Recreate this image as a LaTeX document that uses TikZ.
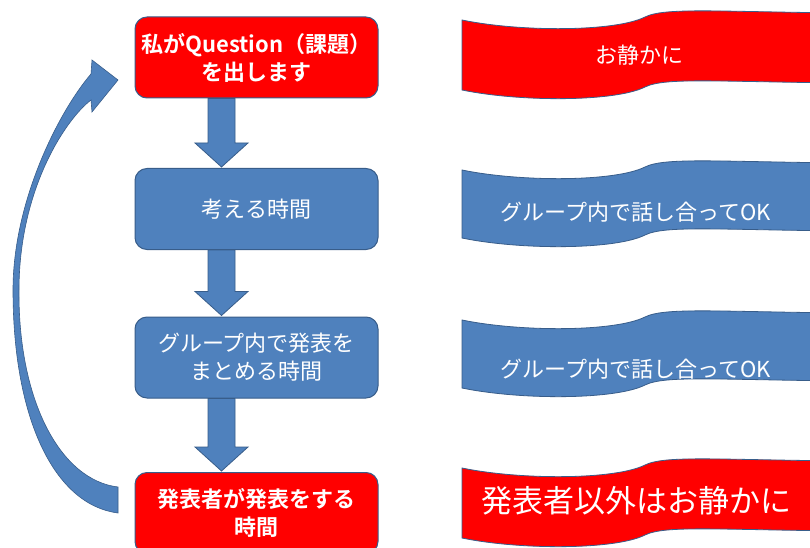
\documentclass[tikz,border=0pt]{standalone}
\usepackage{fontspec}
\usetikzlibrary{calc}
\newfontfamily\jp{Noto Sans CJK JP}[BoldFont={Noto Sans CJK JP Bold}]
\definecolor{pblue}{HTML}{4F81BD}
\definecolor{pline}{HTML}{385D8A}
\definecolor{pred}{HTML}{FF0000}
\newcommand\flowarrow[2]{%
  \filldraw[fill=pblue, draw=pline, line width=0.8pt, line join=miter]
    ($(#1.south)+(-48.5,0)$) -- ($(#2.north)+(-48.5,-25)$) -- ($(#2.north)+(-61.5,-25)$)
    -- ($(#2.north)+(-35,-1)$) -- ($(#2.north)+(-8.5,-25)$) -- ($(#2.north)+(-21.5,-25)$)
    -- ($(#1.south)+(-21.5,0)$) -- cycle;}
\newcommand\wavebanner[3]{%
  \filldraw[fill=#2, draw=pline, line width=0.8pt]
    (462,#1) .. controls (520,#1+12) and (615,#1+12) .. (645,#1-3)
    .. controls (665,#1-13) and (720,#1-8) .. (850,#1-7)
    -- (850,#1+#3-7) .. controls (720,#1+#3-8) and (665,#1+#3-13) .. (645,#1+#3-3)
    .. controls (615,#1+#3+12) and (520,#1+#3+12) .. (462,#1+#3) -- cycle;}
\begin{document}
\begin{tikzpicture}[x=1pt,y=-1pt,
  box/.style={draw=pline, line width=1pt, rounded corners=12pt, minimum width=243pt,
    minimum height=81pt, inner sep=0pt, text=white, align=center,
    font=\jp\fontsize{22}{28}\selectfont},
  bluebox/.style={box, fill=pblue},
  redbox/.style={box, fill=pred, font=\jp\bfseries\fontsize{22}{28}\selectfont},
  bantext/.style={text=white, inner sep=0pt, font=\jp\fontsize{22}{28}\selectfont}]
\useasboundingbox (0,0) rectangle (810,548);
\clip (0,0) rectangle (810,548);
\fill[white] (0,0) rectangle (810,548);

% left column
\node[redbox]  (b1) at (256.5,57.5) {私がQuestion（課題）\\を出します};
\node[bluebox] (b2) at (256.5,209)  {考える時間};
\node[bluebox] (b3) at (256.5,357.5) {グループ内で発表を\\まとめる時間};
\node[redbox]  (b4) at (256.5,513)  {発表者が発表をする\\時間};

\flowarrow{b1}{b2}
\flowarrow{b2}{b3}
\flowarrow{b3}{b4}

% curved return arrow
\filldraw[fill=pblue, draw=pline, line width=0.6pt, line join=miter]
  (118,513) .. controls (55,505) and (13,420) .. (13,290)
  .. controls (13,200) and (60,110) .. (91,74)
  -- (92,60) -- (118,80) -- (92,112) -- (91,100)
  .. controls (65,120) and (19,190) .. (19,290)
  .. controls (18,400) and (60,480) .. (118,487) -- cycle;

% right column banners
\wavebanner{20}{pred}{70}
\wavebanner{170}{pblue}{68}
\wavebanner{320}{pblue}{68}
\wavebanner{468}{pred}{70}
\node[bantext] (t1) at (639,55)  {お静かに};
\node[bantext] (t2) at (636,212) {グループ内で話し合ってOK};
\node[bantext] (t3) at (636,369) {グループ内で話し合ってOK};
\node[bantext, font=\jp\fontsize{31}{36}\selectfont] (t4) at (636,501) {発表者以外はお静かに};
\end{tikzpicture}
\end{document}
